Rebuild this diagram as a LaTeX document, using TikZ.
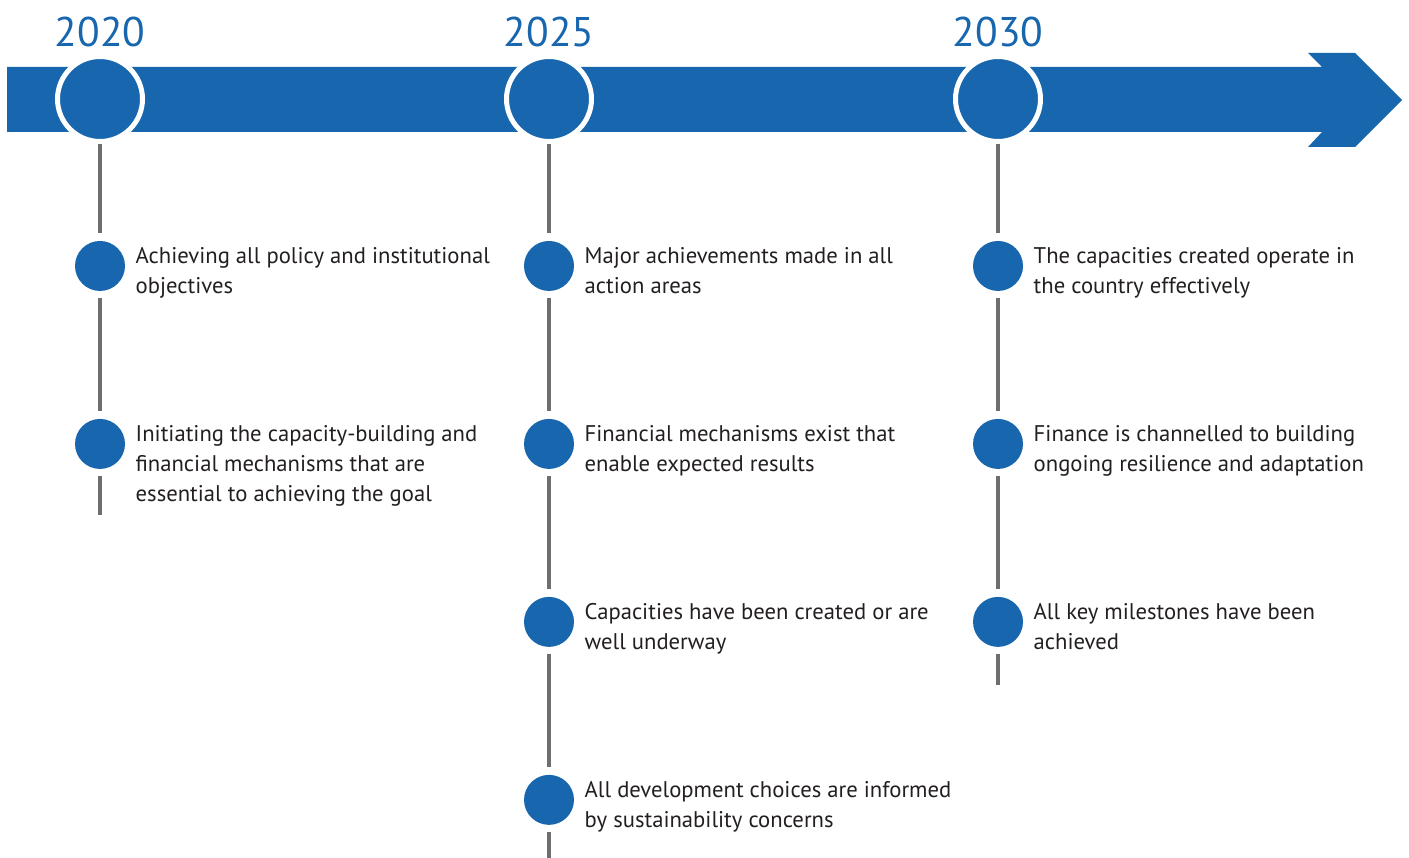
\documentclass[tikz,border=0pt]{standalone}
\usepackage{fontspec}
\setmainfont{PT Sans}
\usetikzlibrary{positioning}
\definecolor{tlblue}{HTML}{1766AE}
\definecolor{tlgray}{HTML}{6D6E71}
\definecolor{tltext}{HTML}{231F20}

\begin{document}
\begin{tikzpicture}[x=0.02cm, y=-0.02cm, node distance=3.56cm,
  year/.style={circle, fill=tlblue, draw=white, line width=0.1cm, minimum size=1.7cm, inner sep=0pt},
  yeartext/.style={text=tlblue, inner sep=0pt, anchor=south, font=\fontsize{23.6}{24}\selectfont},
  event/.style={circle, fill=tlblue, minimum size=1cm, inner sep=0pt},
  desc/.style={inner sep=0pt, align=left, text=tltext, font=\fontsize{12.9}{17.1}\selectfont},
  link/.style={draw=tlgray, line width=0.08cm, shorten >=0.16cm, shorten <=0.14cm}]
\useasboundingbox (0,0) rectangle (1409,858);
% arrow
\fill[tlblue] (7,67) -- (1322,67) -- (1308,53) -- (1355,53) -- (1402,100) -- (1355,147) -- (1308,147) -- (1322,132) -- (7,132) -- cycle;
% years
\node[year] (y2020) at (100,99) {};
\node[year] (y2025) at (549,99) {};
\node[year] (y2030) at (998,99) {};
\node[yeartext] (n2020) [above=0.14cm of y2020] {2020};
\node[yeartext] (n2025) [above=0.14cm of y2025] {2025};
\node[yeartext] (n2030) [above=0.14cm of y2030] {2030};
% 2020
\node[event] (e11) [below of=y2020, node distance=3.34cm] {};
\node[event] (e12) [below of=e11] {};
\coordinate (end1) at (100,515);
\node[desc] (t11) [right=0.2cm of e11, anchor=north west, yshift=0.38cm] {Achieving all policy and institutional\\objectives};
\node[desc] (t12) [right=0.2cm of e12, anchor=north west, yshift=0.38cm] {Initiating the capacity-building and\\financial mechanisms that are\\essential to achieving the goal};
% 2025
\node[event] (e21) [below of=y2025, node distance=3.34cm] {};
\node[event] (e22) [below of=e21] {};
\node[event] (e23) [below of=e22] {};
\node[event] (e24) [below of=e23] {};
\coordinate (end2) at (549,858);
\node[desc] (t21) [right=0.2cm of e21, anchor=north west, yshift=0.38cm] {Major achievements made in all\\action areas};
\node[desc] (t22) [right=0.2cm of e22, anchor=north west, yshift=0.38cm] {Financial mechanisms exist that\\enable expected results};
\node[desc] (t23) [right=0.2cm of e23, anchor=north west, yshift=0.38cm] {Capacities have been created or are\\well underway};
\node[desc] (t24) [right=0.2cm of e24, anchor=north west, yshift=0.38cm] {All development choices are informed\\by sustainability concerns};
% 2030
\node[event] (e31) [below of=y2030, node distance=3.34cm] {};
\node[event] (e32) [below of=e31] {};
\node[event] (e33) [below of=e32] {};
\coordinate (end3) at (998,685);
\node[desc] (t31) [right=0.2cm of e31, anchor=north west, yshift=0.38cm] {The capacities created operate in\\the country effectively};
\node[desc] (t32) [right=0.2cm of e32, anchor=north west, yshift=0.38cm] {Finance is channelled to building\\ongoing resilience and adaptation};
\node[desc] (t33) [right=0.2cm of e33, anchor=north west, yshift=0.38cm] {All key milestones have been\\achieved};
% links
\path[link, shorten <=0pt] (y2020) -- (e11);
\path[link] (e11) -- (e12);
\path[link, shorten >=0pt] (e12) -- (end1);
\path[link, shorten <=0pt] (y2025) -- (e21);
\path[link] (e21) -- (e22);
\path[link] (e22) -- (e23);
\path[link] (e23) -- (e24);
\path[link, shorten >=0pt] (e24) -- (end2);
\path[link, shorten <=0pt] (y2030) -- (e31);
\path[link] (e31) -- (e32);
\path[link] (e32) -- (e33);
\path[link, shorten >=0pt] (e33) -- (end3);
\end{tikzpicture}
\end{document}
